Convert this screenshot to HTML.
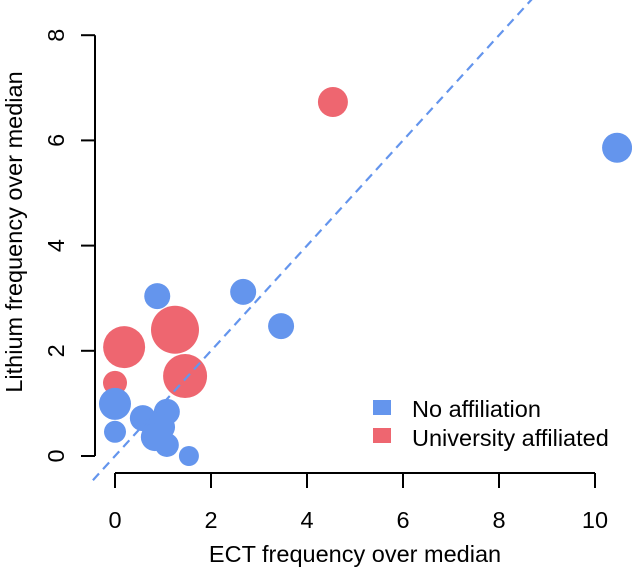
<!DOCTYPE html>
<html><head><meta charset="utf-8"><style>
body{margin:0;background:#fff;}
svg{display:block;font-family:"Liberation Sans",Arial,sans-serif;}
</style></head><body>
<svg id="chart" width="632" height="571" viewBox="0 0 632 571">
<g id="marks"></g>
<g id="axes"></g>
<text x="355" y="562" font-size="23.5" text-anchor="middle" fill="#000">ECT frequency over median</text>
<text transform="translate(22,232) rotate(-90)" font-size="23.5" text-anchor="middle" fill="#000">Lithium frequency over median</text>
<g>
<rect x="373" y="400" width="18" height="15" fill="#6495ED"/>
<text x="412" y="417" font-size="23.5" fill="#000">No affiliation</text>
<rect x="373" y="428" width="18" height="15" fill="#EE6670"/>
<text x="412" y="446" font-size="23.5" fill="#000">University affiliated</text>
</g>
</svg>
<script>
const groups = ["blue","blue","blue","red","red","red","red","red","blue","blue","blue","blue","blue","blue","blue","blue","blue"];
const ectValues = [10.46,0.88,2.67,4.54,1.25,0.19,1.46,0.0,3.46,0.0,0.0,0.58,1.08,0.98,0.83,1.08,1.54];
const lithiumValues = [5.86,3.04,3.12,6.73,2.40,2.07,1.52,1.39,2.47,0.99,0.46,0.72,0.84,0.55,0.36,0.21,0.0];
const sizes = [15,13,13,15,24,21,22,12,13,16,11,13,13,13,14,12,10];
const xTicks = [0,2,4,6,8,10];
const yTicks = [0,2,4,6,8];
const colors = {blue:"#6495ED", red:"#EE6670"};
const NS="http://www.w3.org/2000/svg";
function xs(v){return 115+v*48;}
function ys(v){return 456-v*52.6;}
const marks=document.getElementById('marks');
const axes=document.getElementById('axes');
function mk(tag,attrs,parent){const e=document.createElementNS(NS,tag);for(const k in attrs)e.setAttribute(k,attrs[k]);parent.appendChild(e);return e;}
ectValues.forEach((v,i)=>{
  const c=mk('circle',{cx:xs(v),cy:ys(lithiumValues[i]),r:sizes[i],fill:colors[groups[i]]},marks);
  
  
});
const l=mk('line',{x1:xs(-0.46),y1:ys(-0.46),x2:xs(8.7),y2:ys(8.7),stroke:"#6495ED","stroke-width":2.2,"stroke-dasharray":"9,6"},marks);


const xa=mk('line',{x1:xs(xTicks[0]),y1:473,x2:xs(xTicks[xTicks.length-1]),y2:473,stroke:"#000","stroke-width":2},axes);


xTicks.forEach(t=>{
  mk('line',{x1:xs(t),y1:473,x2:xs(t),y2:488,stroke:"#000","stroke-width":2},axes);
  const tx=mk('text',{x:xs(t),y:528,"font-size":23.5,"text-anchor":"middle"},axes);
  tx.textContent=t;
  
  
});
const ya=mk('line',{x1:95,y1:ys(yTicks[0]),x2:95,y2:ys(yTicks[yTicks.length-1]),stroke:"#000","stroke-width":2},axes);


yTicks.forEach(t=>{
  mk('line',{x1:81,y1:ys(t),x2:95,y2:ys(t),stroke:"#000","stroke-width":2},axes);
  const tx=mk('text',{transform:`translate(64,${ys(t)}) rotate(-90)`,"font-size":23.5,"text-anchor":"middle"},axes);
  tx.textContent=t;
  
  
});
</script>
</body></html>
